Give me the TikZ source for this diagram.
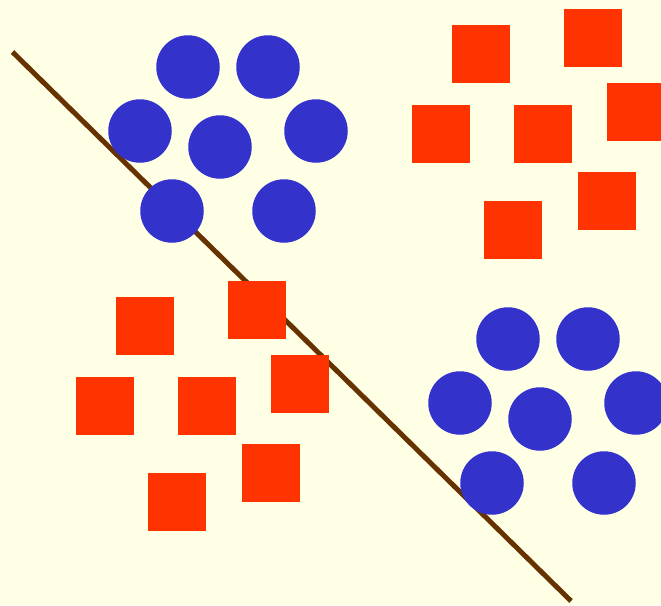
\documentclass[tikz,border=0pt]{standalone}
\definecolor{bg}{RGB}{255,255,230}
\definecolor{dot}{RGB}{51,51,204}
\definecolor{sq}{RGB}{255,51,0}
\definecolor{ln}{RGB}{102,51,0}
\begin{document}
\begin{tikzpicture}[x=1pt,y=-1pt,
  dotshape/.style={circle,fill=dot,draw=none,minimum size=63.5pt,inner sep=0pt},
  sqshape/.style={rectangle,fill=sq,draw=none,minimum size=58pt,inner sep=0pt,anchor=north west},
  sepline/.style={draw=ln,line width=5pt}]
\fill[bg] (0,0) rectangle (661,605);
\useasboundingbox (0,0) rectangle (661,605);
\clip (0,0) rectangle (661,605);
\coordinate (ls) at (12.5,52);
\coordinate (le) at (571,601);
\draw[sepline] (ls) -- (le);
% circles top-left
\foreach \n/\x/\y in {a1/188/67,a2/268/67,a3/140/131,a4/220/147,a5/316/131,a6/172/211,a7/284/211}
  \node[dotshape] (\n) at (\x,\y) {};
% circles bottom-right
\foreach \n/\x/\y in {b1/508/339,b2/588/339,b3/460/403,b4/540/419,b5/636/403,b6/492/483,b7/604/483}
  \node[dotshape] (\n) at (\x,\y) {};
% squares top-right
\foreach \n/\x/\y in {c1/452/25,c2/564/9,c3/412/105,c4/514/105,c5/607/83,c6/578/172,c7/484/201}
  \node[sqshape] (\n) at (\x,\y) {};
% squares bottom-left
\foreach \n/\x/\y in {d1/116/297,d2/228/281,d3/76/377,d4/178/377,d5/271/355,d6/242/444,d7/148/473}
  \node[sqshape] (\n) at (\x,\y) {};
\end{tikzpicture}
\end{document}
